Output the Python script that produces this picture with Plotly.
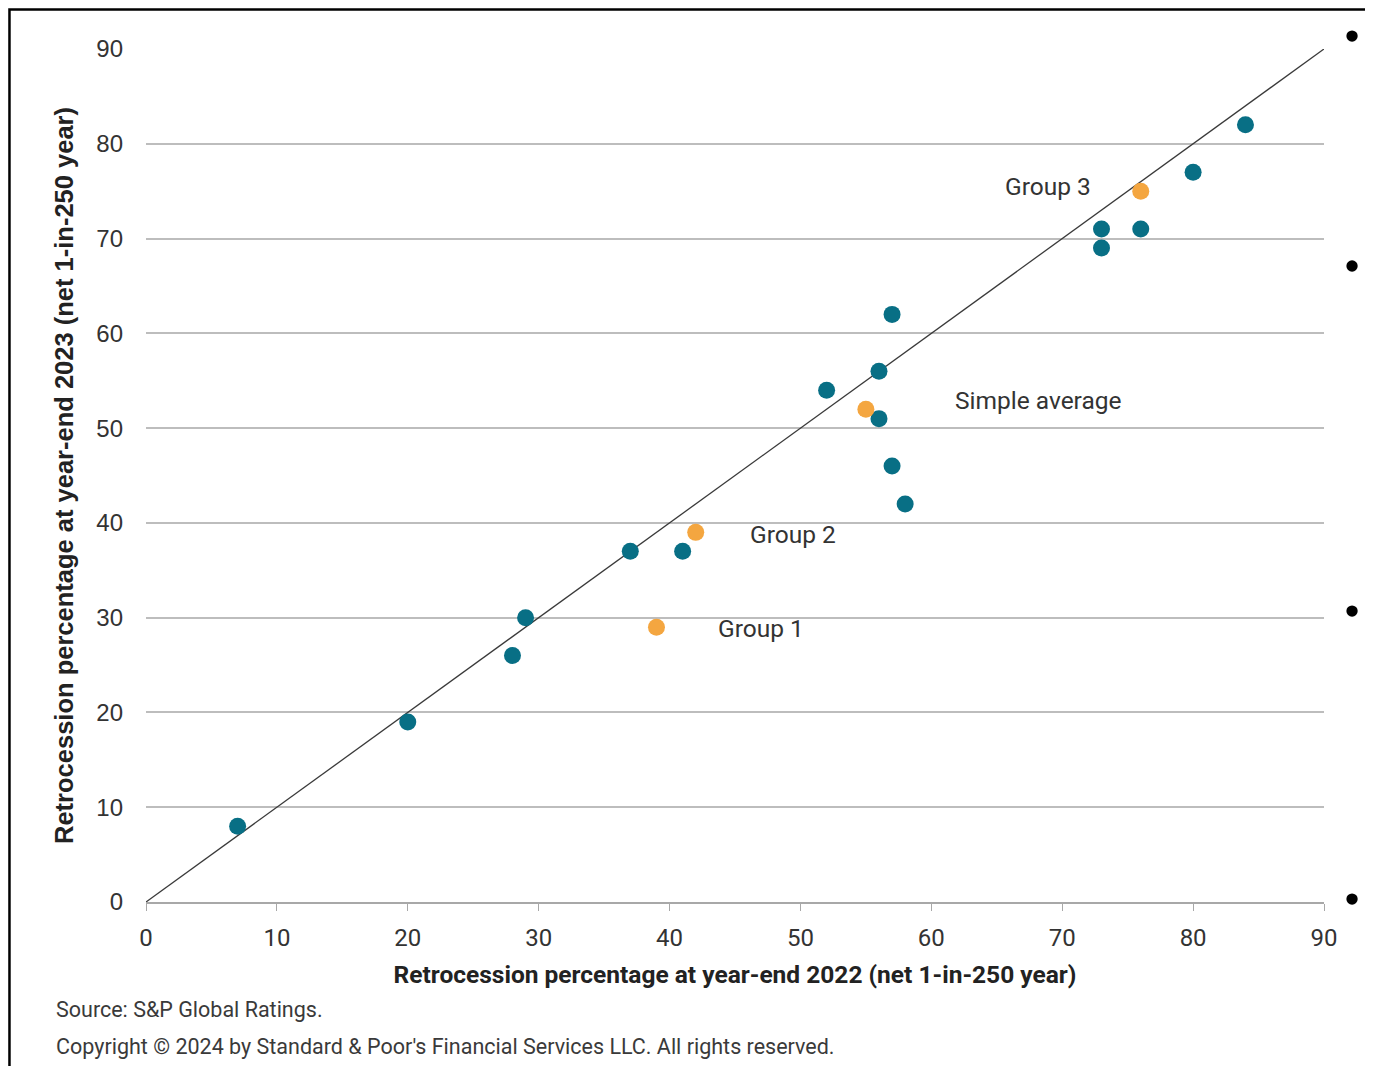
import plotly.graph_objects as go

# Data
x_main = [7, 20, 28, 29, 37, 41, 52, 56, 57, 56, 57, 58, 73, 73, 76, 80, 84]
y_main = [8, 19, 26, 30, 37, 37, 54, 56, 62, 51, 46, 42, 71, 69, 71, 77, 82]
group_names = ["Group 1", "Group 2", "Simple average", "Group 3"]
x_groups = [39, 42, 55, 76]
y_groups = [29, 39, 52, 75]
label_x = [47, 49.4, 68.2, 68.9]
label_y = [28.9, 38.8, 52.9, 75.5]
diag = [0, 90]
tick_vals = [0, 10, 20, 30, 40, 50, 60, 70, 80, 90]

TEAL = "#086f85"
ORANGE = "#f4a640"
FONT = "Roboto, Arial, sans-serif"
FONT2 = "Liberation Sans, Arial, sans-serif"

fig = go.Figure()
fig.add_trace(go.Scatter(x=diag, y=diag, mode="lines",
                         line=dict(color="#3a3a3a", width=1.3), hoverinfo="skip"))
fig.add_trace(go.Scatter(x=x_main, y=y_main, mode="markers",
                         marker=dict(color=TEAL, size=17)))
fig.add_trace(go.Scatter(x=x_groups, y=y_groups, mode="markers",
                         marker=dict(color=ORANGE, size=17)))

for nm, lx, ly in zip(group_names, label_x, label_y):
    fig.add_annotation(x=lx, y=ly, text=nm, showarrow=False,
                       font=dict(size=24.5, color="#333333", family=FONT))

fig.add_annotation(xref="paper", yref="paper", x=-0.078, y=-0.126, xanchor="left",
                   yanchor="middle", text="Source: S&P Global Ratings.", showarrow=False,
                   font=dict(size=21.5, color="#3a3a3a", family=FONT))
fig.add_annotation(xref="paper", yref="paper", x=-0.078, y=-0.169, xanchor="left",
                   yanchor="middle",
                   text="Copyright © 2024 by Standard & Poor's Financial Services LLC. All rights reserved.",
                   showarrow=False, font=dict(size=21.5, color="#3a3a3a", family=FONT))

# frame
fig.add_shape(type="rect", xref="paper", yref="paper", x0=-0.1159, x1=1.06, y0=-0.25, y1=1.0463,
              line=dict(color="black", width=2.5), fillcolor="rgba(0,0,0,0)", layer="above")
# side bullets
for by in [1.0152, 0.7456, 0.3411, 0.0035]:
    fig.add_shape(type="circle", xref="paper", yref="paper", x0=1.0238 - 0.0048, x1=1.0238 + 0.0048,
                  y0=by - 0.0066, y1=by + 0.0066, fillcolor="black", line=dict(width=0))

fig.update_layout(
    width=1373, height=1066,
    margin=dict(l=138, r=57, t=41, b=172),
    paper_bgcolor="white", plot_bgcolor="white",
    showlegend=False,
    font=dict(family=FONT, color="#333333"),
    xaxis=dict(range=[0, 90], tickvals=tick_vals, showgrid=False, zeroline=False,
               showline=True, linecolor="#a8a8a8", linewidth=1.5,
               ticks="outside", ticklen=7, tickcolor="#a8a8a8", tickwidth=1.2,
               ticklabelstandoff=6,
               tickfont=dict(size=24, color="#333333", family=FONT),
               title=dict(text="<b>Retrocession percentage at year-end 2022 (net 1-in-250 year)</b>",
                          font=dict(size=24.5, color="#222222", family=FONT), standoff=15)),
    yaxis=dict(range=[0, 90], tickvals=tick_vals, showgrid=True, gridcolor="#bdbdbd", gridwidth=1.8,
               zeroline=False, showline=False, ticks="", ticklabelstandoff=22,
               tickfont=dict(size=24, color="#333333", family=FONT2),
               title=dict(text="<b>Retrocession percentage at year-end 2023 (net 1-in-250 year)</b>",
                          font=dict(size=25.5, color="#222222", family=FONT2),
                          standoff=15)),
)

fig.write_html("out.html")
